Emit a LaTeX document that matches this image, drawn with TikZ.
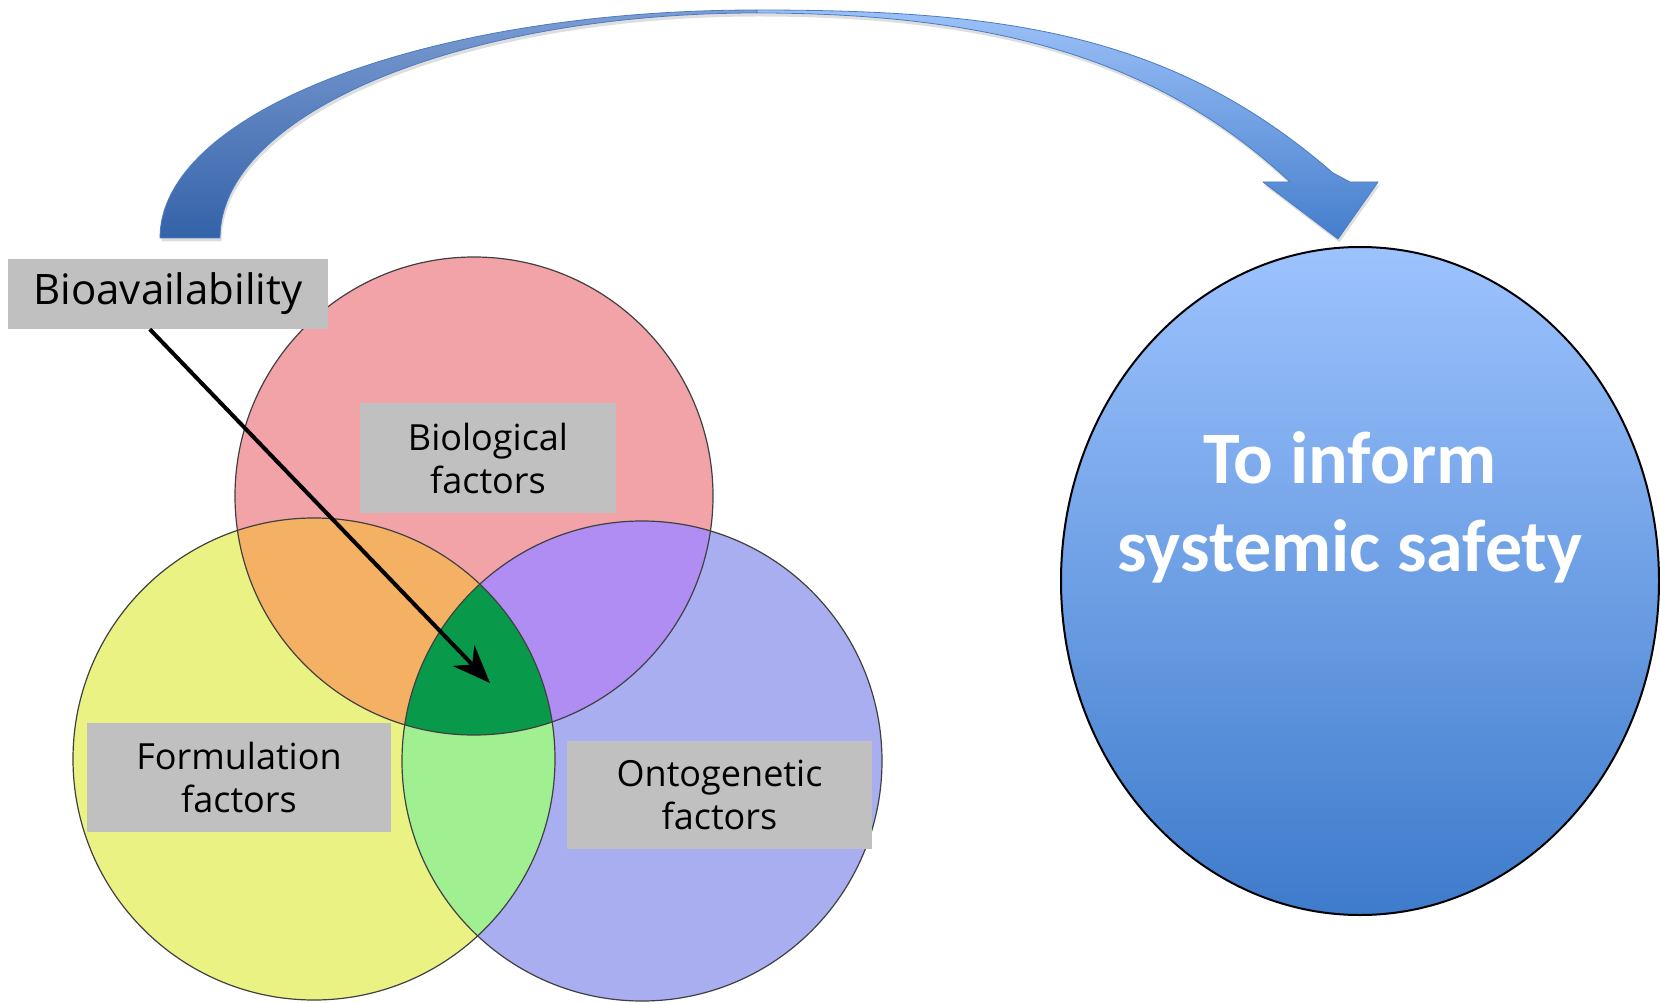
\documentclass[tikz,border=0pt]{standalone}
\usepackage{fontspec}
\setmainfont{Open Sans}
\newfontfamily\calfont{Carlito}
\usetikzlibrary{shapes.geometric,arrows.meta,calc}
\definecolor{cpink}{HTML}{F1A3A7}
\definecolor{cyellow}{HTML}{EAF283}
\definecolor{cblue}{HTML}{A8AEF0}
\definecolor{corange}{HTML}{F5B163}
\definecolor{cpurple}{HTML}{B08DF2}
\definecolor{clgreen}{HTML}{A0F091}
\definecolor{cdgreen}{HTML}{08994B}
\definecolor{cgray}{HTML}{C0C0C0}
\definecolor{ctop}{HTML}{9DC3FE}
\definecolor{cbot}{HTML}{3E7BCB}
\definecolor{larrtop}{HTML}{7C9CD2}
\definecolor{larrbot}{HTML}{3462A8}
\definecolor{rarrtop}{HTML}{9CC1F8}
\definecolor{rarrbot}{HTML}{457ECC}
\definecolor{arredge}{HTML}{4A7CC2}
\tikzset{
  graybox/.style={fill=cgray, inner sep=0pt, align=center, font=\fontsize{36}{43}\selectfont},
  vennline/.style={draw=black!75, line width=1.2pt},
  ribbon/.style={draw=arredge, line width=0.8pt, line join=round,
    preaction={fill=black, opacity=0.13, transform canvas={shift={(1.5pt,-3.5pt)}}}},
}
\begin{document}
\begin{tikzpicture}[x=1pt,y=-1pt]
\useasboundingbox (0,0) rectangle (1660,1003);
\fill[white] (0,0) rectangle (1660,1003);

% curved arrow (left, darker part)
\path[ribbon, top color=larrtop, bottom color=larrbot]
  (160,238) arc[start angle=180, end angle=270, x radius=597, y radius=228]
  -- (757,13) arc[start angle=270, end angle=180, x radius=537, y radius=225]
  -- cycle;
% curved arrow (right, lighter part with head)
\path[ribbon, top color=rarrtop, bottom color=rarrbot]
  (757,10) .. controls (1007,10) and (1173,34) .. (1333,173)
  -- (1350,182) -- (1378,182) -- (1338,239) -- (1263,182) -- (1290,182)
  .. controls (1170,70) and (1017,13) .. (757,13)
  -- cycle;

% Venn diagram
\fill[cpink] (474,496) circle[radius=239];
\fill[cyellow] (314,759) circle[radius=241];
\fill[cblue] (642,761) circle[radius=240];
\begin{scope}
  \clip (474,496) circle[radius=239];
  \fill[corange] (314,759) circle[radius=241];
  \fill[cpurple] (642,761) circle[radius=240];
\end{scope}
\begin{scope}
  \clip (314,759) circle[radius=241];
  \fill[clgreen] (642,761) circle[radius=240];
  \clip (474,496) circle[radius=239];
  \fill[cdgreen] (642,761) circle[radius=240];
\end{scope}
\draw[vennline] (474,496) circle[radius=239];
\draw[vennline] (314,759) circle[radius=241];
\draw[vennline] (642,761) circle[radius=240];

% labels
\node[graybox, minimum width=320pt, minimum height=70pt, font=\fontsize{42}{50}\selectfont] (bio) at (168,294) {Bioavailability};
\node[graybox, minimum width=256pt, minimum height=110pt] (biol) at (488,458) {Biological\\factors};
\node[graybox, minimum width=304pt, minimum height=109pt] (form) at (239,777.5) {Formulation\\factors};
\node[graybox, minimum width=305pt, minimum height=108pt] (onto) at (719.5,795) {Ontogenetic\\factors};

\coordinate (core) at (490,683);
\draw[line width=4pt, -{Stealth[length=38pt, width=30pt]}] ($(bio.south west)+(142,0)$) -- (core);

% target ellipse
\node[ellipse, draw=black, line width=2pt, top color=ctop, bottom color=cbot,
      minimum width=598pt, minimum height=668pt, inner sep=0pt] (safety) at (1360,581) {};
\node[font=\calfont\bfseries\fontsize{74}{88}\selectfont, text=white, align=center] (safetytext) at (1350,507) {To inform\\systemic safety};
\end{tikzpicture}
\end{document}
